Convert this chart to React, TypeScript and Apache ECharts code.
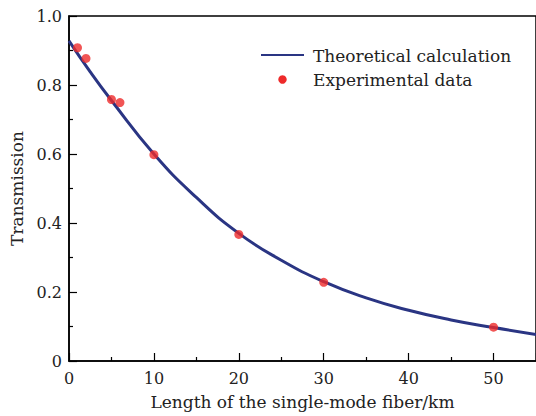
import React, { useEffect, useRef } from "react";
import * as echarts from "echarts";

const curveX = [0, 2.5, 5, 10, 15, 20, 25, 30, 35, 40, 45, 50, 55];
const curveY = [0.928, 0.838, 0.755, 0.600, 0.474, 0.370, 0.292, 0.230, 0.183, 0.147, 0.119, 0.097, 0.077];
const expX = [1, 2, 5, 6, 10, 20, 30, 50];
const expY = [0.908, 0.877, 0.758, 0.749, 0.598, 0.367, 0.228, 0.098];
const legendNames = ["Theoretical calculation", "Experimental data"];
const xTitle = "Length of the single-mode fiber/km";
const yTitle = "Transmission";

const FONT = "DejaVu Serif";
const LINE_COLOR = "#2a3583";
const DOT_COLOR = "#ee2a2a";

export default function App() {
  const ref = useRef<HTMLDivElement>(null);
  useEffect(() => {
    if (!ref.current) return;
    const chart = echarts.init(ref.current, null, { renderer: "svg" });
    chart.setOption({
      animation: false,
      backgroundColor: "#ffffff",
      grid: {
        left: 69,
        top: 16,
        width: 470,
        height: 345,
        show: true,
        borderColor: "#000",
        borderWidth: 1.5,
        backgroundColor: "transparent",
      },
      xAxis: {
        type: "value",
        min: 0,
        max: 55,
        interval: 10,
        name: xTitle,
        nameLocation: "middle",
        nameGap: 32,
        nameTextStyle: { fontFamily: FONT, fontSize: 17, color: "#222" },
        axisLine: { show: true, lineStyle: { color: "#000", width: 1.5 } },
        axisTick: { show: true, inside: true, length: 8, lineStyle: { color: "#000", width: 1.2 } },
        minorTick: { show: true, splitNumber: 2, length: 4, lineStyle: { color: "#000", width: 1.2 } },
        splitLine: { show: false },
        axisLabel: {
          fontFamily: FONT,
          fontSize: 16,
          color: "#222",
          margin: 9,
          showMaxLabel: false,
        },
      },
      yAxis: {
        type: "value",
        min: 0,
        max: 1,
        interval: 0.2,
        name: yTitle,
        nameLocation: "middle",
        nameGap: 43,
        nameRotate: 90,
        nameTextStyle: { fontFamily: FONT, fontSize: 17, color: "#222" },
        axisLine: { show: true, lineStyle: { color: "#000", width: 1.5 } },
        axisTick: { show: true, inside: true, length: 8, lineStyle: { color: "#000", width: 1.2 } },
        minorTick: { show: true, splitNumber: 2, length: 4, lineStyle: { color: "#000", width: 1.2 } },
        splitLine: { show: false },
        axisLabel: {
          fontFamily: FONT,
          fontSize: 16,
          color: "#222",
          margin: 7,
          formatter: (v: number) => (v === 0 ? "0" : v.toFixed(1)),
        },
      },
      series: [
        {
          name: legendNames[0],
          type: "line",
          data: curveX.map((x, i) => [x, curveY[i]]),
          smooth: 0.5,
          showSymbol: false,
          lineStyle: { color: LINE_COLOR, width: 3 },
          z: 2,
        },
        {
          name: legendNames[1],
          type: "scatter",
          data: expX.map((x, i) => [x, expY[i]]),
          symbol: "circle",
          symbolSize: 9,
          itemStyle: { color: DOT_COLOR },
          z: 3,
        },
      ],
      graphic: [
        {
          type: "line",
          shape: { x1: 261, y1: 55, x2: 304, y2: 55 },
          style: { stroke: LINE_COLOR, lineWidth: 2 },
        },
        {
          type: "text",
          x: 313,
          y: 56,
          style: {
            text: legendNames[0],
            fontFamily: FONT,
            fontSize: 17,
            fill: "#222",
            verticalAlign: "middle",
          },
        },
        {
          type: "circle",
          shape: { cx: 282.5, cy: 79.5, r: 4.2 },
          style: { fill: DOT_COLOR },
        },
        {
          type: "text",
          x: 313,
          y: 80,
          style: {
            text: legendNames[1],
            fontFamily: FONT,
            fontSize: 17,
            fill: "#222",
            verticalAlign: "middle",
          },
        },
      ],
    });
    return () => chart.dispose();
  }, []);
  return <div ref={ref} style={{ width: 536, height: 416, position: "fixed", left: 0, top: 0 }} />;
}
